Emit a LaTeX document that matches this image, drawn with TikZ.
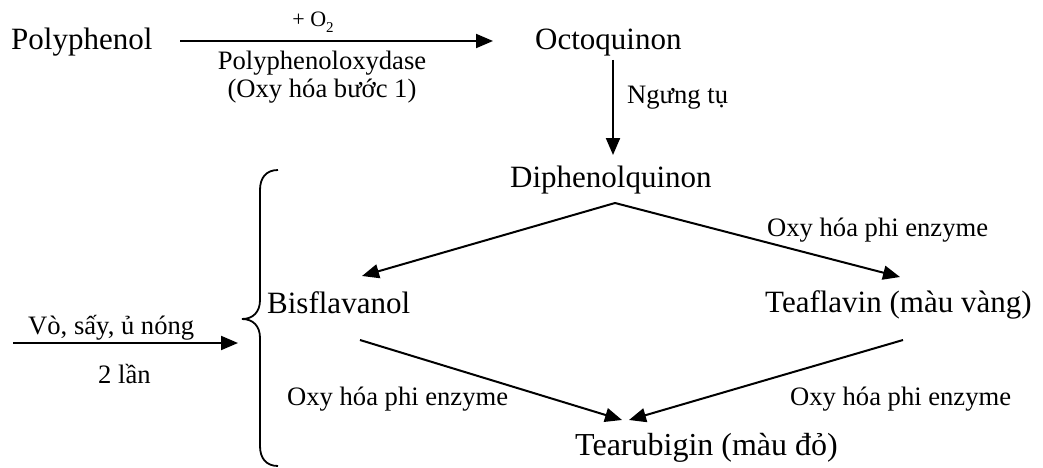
\documentclass[tikz,border=0pt]{standalone}
\usepackage{fontspec}
\setmainfont{Liberation Serif}
\usetikzlibrary{arrows.meta}
\begin{document}
\begin{tikzpicture}[x=1pt,y=-1pt,
  big/.style={font=\fontsize{31}{36}\selectfont, inner sep=0pt},
  small/.style={font=\fontsize{26.6}{31}\selectfont, inner sep=0pt},
  tiny/.style={font=\fontsize{22}{26}\selectfont, inner sep=0pt},
  arr/.style={line width=2pt, -{Triangle[length=17pt,width=14pt]}},
  ln/.style={line width=2pt},
  brace/.style={line width=1.8pt}]
\useasboundingbox (0,0) rectangle (1043,468);
% texts
\node[big,anchor=base west] (poly) at (11,50) {Polyphenol};
\node[big,anchor=base west] (octo) at (535,50) {Octoquinon};
\node[tiny,anchor=base] (o2) at (313,27) {+ O\raisebox{-0.25em}{\fontsize{15}{18}\selectfont 2}};
\node[small,anchor=base] (ppo) at (322,70) {Polyphenoloxydase};
\node[small,anchor=base] (step1) at (322,98) {(Oxy hóa bước 1)};
\node[small,anchor=base west] (ngung) at (627,104) {Ngưng tụ};
\node[big,anchor=base west] (diph) at (510,187) {Diphenolquinon};
\node[big,anchor=base west] (bisf) at (267,313) {Bisflavanol};
\node[big,anchor=base west] (teaf) at (765,312) {Teaflavin (màu vàng)};
\node[big,anchor=base west,font=\fontsize{32}{37}\selectfont] (tear) at (575,455) {Tearubigin (màu đỏ)};
\node[small,anchor=base west] (oxy1) at (767,236) {Oxy hóa phi enzyme};
\node[small,anchor=base west] (oxy2) at (287,405) {Oxy hóa phi enzyme};
\node[small,anchor=base west] (oxy3) at (790,405) {Oxy hóa phi enzyme};
\node[small,anchor=base west] (vo) at (28,334) {Vò, sấy, ủ nóng};
\node[small,anchor=base west] (lan) at (98,383) {2 lần};
% connector end points
\coordinate (p1s) at (180,41);
\coordinate (p1e) at (493,41);
\coordinate (p2s) at (613,60);
\coordinate (p2e) at (613,155);
\coordinate (apex) at (615,203);
\coordinate (tipB) at (362,276);
\coordinate (tipT) at (900,277);
\coordinate (bisfS) at (360,340);
\coordinate (teafS) at (903,340);
\coordinate (tipR1) at (622,420);
\coordinate (tipR2) at (629,420);
\coordinate (ls) at (13,343);
\coordinate (le) at (238,343);
% connectors
\draw[arr] (p1s) -- (p1e);
\draw[arr] (p2s) -- (p2e);
\draw[arr] (apex) -- (tipB);
\draw[arr] (apex) -- (tipT);
\draw[arr] (bisfS) -- (tipR1);
\draw[arr] (teafS) -- (tipR2);
\draw[arr] (ls) -- (le);
% brace
\draw[brace] (278,170) .. controls (266,170) and (260,178) .. (260,190)
  -- (260,300) .. controls (260,312) and (253,319) .. (242,319)
  .. controls (253,319) and (260,326) .. (260,338)
  -- (260,446) .. controls (260,458) and (266,466) .. (278,466);
\end{tikzpicture}
\end{document}
